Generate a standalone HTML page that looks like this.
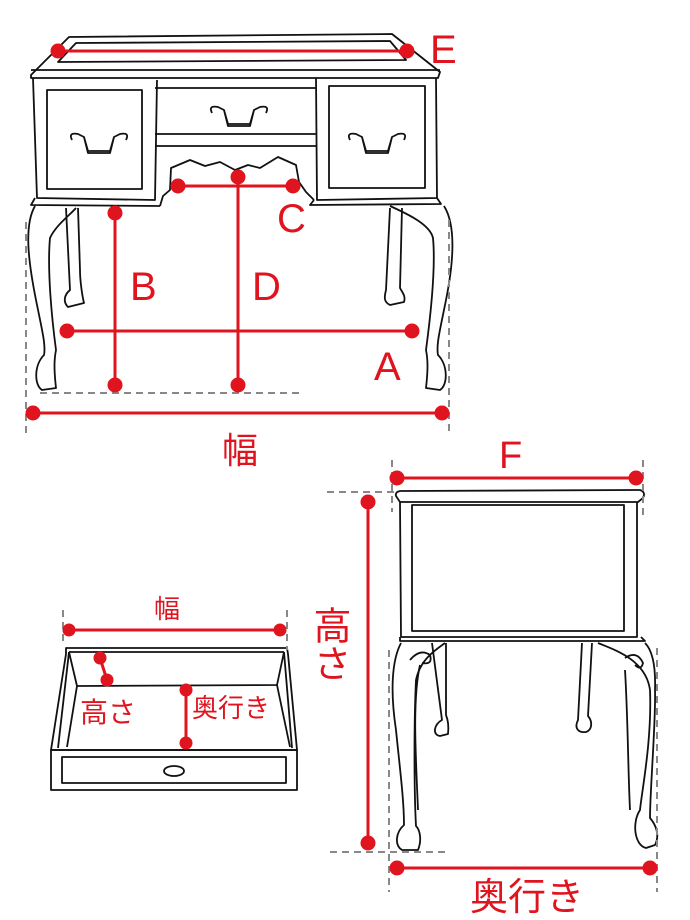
<!DOCTYPE html>
<html><head><meta charset="utf-8"><style>
html,body{margin:0;padding:0;background:#fff}
svg{display:block}
text{font-family:"Liberation Sans","Noto Sans CJK JP",sans-serif;fill:#e0141e}
</style></head><body>
<svg width="690" height="920" viewBox="0 0 690 920" xmlns="http://www.w3.org/2000/svg">
<g fill="none" stroke="#111" stroke-width="1.8" stroke-linejoin="round">
<!-- desk top -->
<path d="M31,75 L69,37 L392,34 L440,72 L438,78 L31,78 Z"/>
<path d="M58,62 L76,43 L390,41 L406,60 Z"/>
<line x1="31" y1="70" x2="440" y2="70"/>
<!-- body -->
<path d="M33,78 L37,198 L155,200 L157,80"/>
<rect x="47" y="90" width="95" height="99"/>
<path d="M35,198 L31,205 L160,206"/>
<line x1="155" y1="88" x2="316" y2="88"/>
<line x1="155" y1="134" x2="316" y2="134"/>
<line x1="155" y1="146" x2="316" y2="146"/>
<path d="M316,78 L317,200 L437,198 L436,78"/>
<rect x="329" y="86" width="96" height="102"/>
<path d="M314,200 L310,205 L441,204 L437,198"/>
<!-- apron scallop -->
<path d="M160,206 L163,196 L170,190 L171,168 L190,160 L205,166 L220,162 L235,170 L248,165 L260,168 L278,157 L296,165 L299,182 L306,192 L314,200"/>
<!-- handles -->
<path d="M72,140 q-4,-8 6,-6 l6,3 l4,14 l22,0 l4,-14 l6,-3 q10,-2 6,6 M84,137 l4,16 l22,0 l4,-16"/>
<path d="M212,113 q-4,-8 6,-6 l6,3 l4,14 l22,0 l4,-14 l6,-3 q10,-2 6,6 M224,110 l4,16 l22,0 l4,-16"/>
<path d="M350,140 q-4,-8 6,-6 l6,3 l4,14 l22,0 l4,-14 l6,-3 q10,-2 6,6 M362,137 l4,16 l22,0 l4,-16"/>
<!-- left legs -->
<path d="M35,206 C24,225 28,260 36,300 C42,330 46,345 44,355 C34,365 34,385 42,390 L56,388 C54,370 54,360 56,350 C52,320 47,270 50,238 C56,225 70,215 76,208"/>
<path d="M66,208 L70,290 C64,295 63,302 68,307 L84,303 C82,295 80,280 80,270 L78,208"/>
<!-- right legs -->
<path d="M390,206 C410,215 430,225 433,238 C436,270 430,320 426,350 C428,360 428,370 426,388 L440,390 C448,385 448,365 438,355 C436,345 440,330 446,300 C454,260 456,225 444,206"/>
<path d="M390,208 L386,290 C384,298 384,302 390,305 L404,302 C406,296 402,292 400,288 L402,208"/>
<!-- side view -->
<path d="M396,496 Q395,492 400,491 L640,490 Q646,492 643,498 L638,502 L400,502 Z"/>
<path d="M400,502 L401,637 L637,637 L637,502"/>
<rect x="412" y="505" width="212" height="126"/>
<path d="M400,637 L400,641 L645,641 L641,637"/>
<path d="M401,643 C392,660 390,690 396,730 C400,770 404,800 404,825 C396,832 394,845 402,850 L418,850 C422,840 420,830 416,826 C414,790 414,720 416,680 C420,660 435,650 445,643"/>
<path d="M420,665 C412,700 416,760 418,810"/>
<path d="M432,643 L442,720 C434,724 432,735 440,736 L448,734 C449,725 448,720 446,715 L446,643"/>
<path d="M582,643 L578,720 C574,728 578,733 586,732 C592,730 593,722 588,716 L592,643"/>
<path d="M598,643 C615,650 646,660 650,690 C652,740 642,790 640,810 C632,822 634,845 646,848 L655,845 C660,835 656,825 650,818 C650,790 656,720 655,690 C656,660 650,648 645,643"/>
<path d="M625,670 C628,720 628,770 630,810"/>
<path d="M410,660 q10,-12 20,-5 q3,10 -8,8 M625,658 q12,-8 18,5 q-2,8 -8,2"/>
<!-- drawer -->
<path d="M66,648 L287,648 L288,654 L297,750 L51,750 L66,654 Z"/>
<path d="M69,652 L284,652"/>
<path d="M69,652 L58,748 M284,652 L292,748"/>
<path d="M69,652 L77,686 L277,685 L284,652"/>
<path d="M77,686 L67,747 M277,685 L290,747"/>
<rect x="51" y="750" width="246" height="40"/>
<rect x="62" y="757" width="224" height="26"/>
<ellipse cx="174" cy="771" rx="10" ry="5"/>
</g>
<!-- dashed gray -->
<g stroke="#888" stroke-width="2" stroke-dasharray="7,5" fill="none">
<line x1="26" y1="222" x2="26" y2="437"/>
<line x1="449" y1="220" x2="449" y2="433"/>
<line x1="40" y1="393" x2="302" y2="393"/>
<line x1="392" y1="460" x2="392" y2="512"/>
<line x1="643" y1="460" x2="643" y2="515"/>
<line x1="327" y1="492" x2="395" y2="492"/>
<line x1="330" y1="852" x2="448" y2="852"/>
<line x1="389" y1="650" x2="389" y2="892"/>
<line x1="657" y1="648" x2="657" y2="892"/>
<line x1="63" y1="610" x2="63" y2="645"/>
<line x1="287" y1="610" x2="287" y2="650"/>
</g>
<!-- red dims -->
<g stroke="#e0141e" stroke-width="3" fill="#e0141e">
<line x1="58" y1="51" x2="407" y2="51"/><circle cx="58" cy="51" r="6"/><circle cx="407" cy="51" r="6"/>
<line x1="178" y1="186" x2="293" y2="186"/><circle cx="178" cy="186" r="6"/><circle cx="293" cy="186" r="6"/>
<line x1="238" y1="177" x2="238" y2="385"/><circle cx="238" cy="177" r="6"/><circle cx="238" cy="385" r="6"/>
<line x1="115" y1="213" x2="115" y2="385"/><circle cx="115" cy="213" r="6"/><circle cx="115" cy="385" r="6"/>
<line x1="67" y1="331" x2="412" y2="331"/><circle cx="67" cy="331" r="6"/><circle cx="412" cy="331" r="6"/>
<line x1="33" y1="413" x2="442" y2="413"/><circle cx="33" cy="413" r="6"/><circle cx="442" cy="413" r="6"/>
<line x1="397" y1="478" x2="636" y2="478"/><circle cx="397" cy="478" r="6"/><circle cx="636" cy="478" r="6"/>
<line x1="368" y1="502" x2="368" y2="843"/><circle cx="368" cy="502" r="6"/><circle cx="368" cy="843" r="6"/>
<line x1="397" y1="868" x2="650" y2="868"/><circle cx="397" cy="868" r="6"/><circle cx="650" cy="868" r="6"/>
<line x1="69" y1="630" x2="280" y2="630"/><circle cx="69" cy="630" r="5"/><circle cx="280" cy="630" r="5"/>
<line x1="100" y1="658" x2="107" y2="680"/><circle cx="100" cy="658" r="5"/><circle cx="107" cy="680" r="5"/>
<line x1="186" y1="690" x2="186" y2="743"/><circle cx="186" cy="690" r="5"/><circle cx="186" cy="743" r="5"/>
</g>
<g stroke="none">
<text x="430" y="63" font-size="40">E</text>
<text x="277" y="232" font-size="40">C</text>
<text x="130" y="300" font-size="40">B</text>
<text x="252" y="300" font-size="40">D</text>
<text x="374" y="380" font-size="40">A</text>
<text x="222" y="463" font-size="36">幅</text>
<text x="499" y="468" font-size="38">F</text>
<text x="154" y="618" font-size="26">幅</text>
<text x="80" y="722" font-size="28">高さ</text>
<text x="192" y="717" font-size="26">奥行き</text>
<text x="470" y="910" font-size="38">奥行き</text>
<text x="328" y="606" font-size="38" style="writing-mode:vertical-rl">高さ</text>
</g>
</svg>
</body></html>
